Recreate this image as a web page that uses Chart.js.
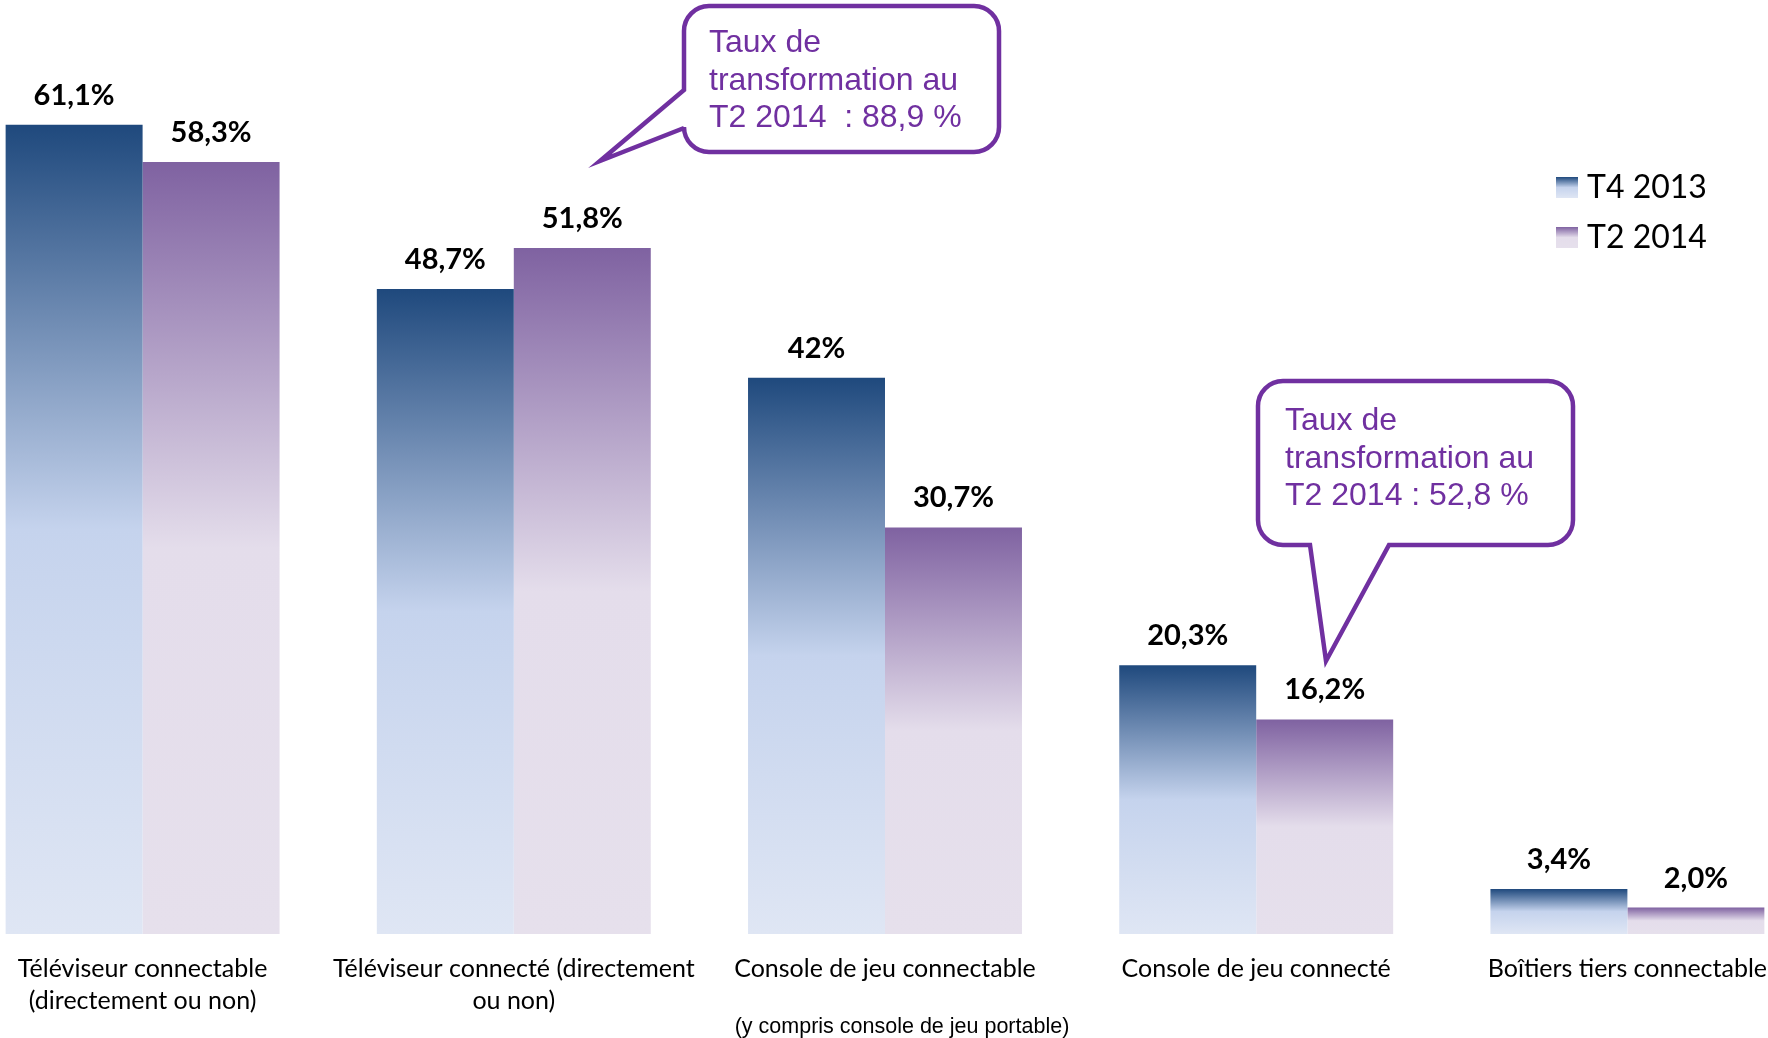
<!DOCTYPE html>
<html lang="fr">
<head>
<meta charset="utf-8">
<title>Téléviseurs et consoles connectables</title>
<script src="https://cdn.jsdelivr.net/npm/chart.js@4.4.1/dist/chart.umd.min.js"></script>
<style>
  html, body { margin: 0; padding: 0; background: #fff; overflow: hidden; }
  #wrap { position: absolute; left: -43px; top: 0; width: 1856px; height: 1038px; }
</style>
</head>
<body>
<div id="wrap"><canvas id="barChart"></canvas></div>
<script>
//Décalage du canvas par rapport à la page (le graphique est coupé à gauche).
var OFFSET_X = -43;

//Données du graphique.
var categories = [
    ['Téléviseur connectable', '(directement ou non)'],
    ['Téléviseur connecté (directement', 'ou non)'],
    'Console de jeu connectable',
    'Console de jeu connecté',
    'Boîtiers tiers connectable'
];
var seriesNames = ['T4 2013', 'T2 2014'];
var valuesT4 = [61.1, 48.7, 42, 20.3, 3.4];
var valuesT2 = [58.3, 51.8, 30.7, 16.2, 2.0];
var labelsT4 = ['61,1%', '48,7%', '42%', '20,3%', '3,4%'];
var labelsT2 = ['58,3%', '51,8%', '30,7%', '16,2%', '2,0%'];
var subLabel = '(y compris console de jeu portable)';
var callouts = [
    ['Taux de', 'transformation au', 'T2 2014  : 88,9 %'],
    ['Taux de', 'transformation au', 'T2 2014 : 52,8 %']
];

//Dégradés des barres.
var stopsBlue = [[0, '#1F497D'], [0.5, '#C5D3ED'], [1, '#DFE6F4']];
var stopsPurple = [[0, '#7F62A1'], [0.5, '#E4DDEB'], [1, '#E6E0EC']];
var PURPLE = '#7030A0';

function gradientFill(stops) {
    return function(context) {
        var chart = context.chart;
        var y = chart.scales.y;
        if (!y || context.type !== 'data') return stops[1][1];
        var v = context.parsed ? context.parsed.y : context.raw;
        var top = y.getPixelForValue(v);
        var bottom = y.getPixelForValue(0);
        if (!isFinite(top) || !isFinite(bottom) || bottom - top < 1) return stops[1][1];
        var g = chart.ctx.createLinearGradient(0, top, 0, bottom);
        stops.forEach(function(s) { g.addColorStop(s[0], s[1]); });
        return g;
    };
}

//Étiquettes de valeur au-dessus des barres.
var valueLabels = {
    id: 'valueLabels',
    afterDatasetsDraw: function(chart) {
        var c = chart.ctx;
        var texts = [labelsT4, labelsT2];
        c.save();
        c.font = 'bold 29px Lato';
        c.fillStyle = '#000';
        c.textAlign = 'center';
        c.textBaseline = 'alphabetic';
        chart.data.datasets.forEach(function(ds, i) {
            chart.getDatasetMeta(i).data.forEach(function(bar, j) {
                c.fillText(texts[i][j], bar.x, bar.y - 20);
            });
        });
        c.restore();
    }
};

//Sous-titre de la troisième catégorie, légende et bulles.
var extras = {
    id: 'extras',
    afterDraw: function(chart) {
        var c = chart.ctx;
        c.save();
        //sous-titre
        c.font = '21.5px "Liberation Sans", Arial';
        c.fillStyle = '#000';
        c.textAlign = 'center';
        c.textBaseline = 'alphabetic';
        c.fillText(subLabel, chart.scales.x.getPixelForValue(2) + 17, 1033);

        //légende
        var stops = [stopsBlue, stopsPurple];
        seriesNames.forEach(function(name, i) {
            var x = 1556 - OFFSET_X, y = 177 + i * 50;
            var g = c.createLinearGradient(0, y, 0, y + 21);
            stops[i].forEach(function(s) { g.addColorStop(s[0], s[1]); });
            c.fillStyle = g;
            c.fillRect(x, y, 22, 21);
            c.fillStyle = '#000';
            c.font = '32px Lato';
            c.textAlign = 'left';
            c.textBaseline = 'alphabetic';
            c.fillText(name, x + 31, y + 21);
        });

        //bulles
        c.translate(-OFFSET_X, 0);
        c.lineWidth = 4.5;
        c.strokeStyle = PURPLE;
        c.fillStyle = '#fff';
        c.lineJoin = 'miter';
        bubbleLeft(c, 684, 6, 999, 152, 25, 90, 128, 600, 161);
        bubbleBottom(c, 1258, 381, 1573, 545, 25, 1310, 1389, 1326, 661);
        c.fillStyle = PURPLE;
        c.font = '32px "Liberation Sans", Arial';
        c.textAlign = 'left';
        callouts[0].forEach(function(t, k) { c.fillText(t, 709, 52 + k * 37.5); });
        callouts[1].forEach(function(t, k) { c.fillText(t, 1285, 430 + k * 37.5); });
        c.restore();
    }
};

//Bulle avec pointe sur le côté gauche.
function bubbleLeft(c, x0, y0, x1, y1, r, py0, py1, tx, ty) {
    c.beginPath();
    c.moveTo(x0 + r, y0);
    c.lineTo(x1 - r, y0);
    c.arcTo(x1, y0, x1, y0 + r, r);
    c.lineTo(x1, y1 - r);
    c.arcTo(x1, y1, x1 - r, y1, r);
    c.lineTo(x0 + r, y1);
    c.arcTo(x0, y1, x0, y1 - r, r);
    c.lineTo(x0, py1);
    c.lineTo(tx, ty);
    c.lineTo(x0, py0);
    c.lineTo(x0, y0 + r);
    c.arcTo(x0, y0, x0 + r, y0, r);
    c.closePath();
    c.fill();
    c.stroke();
}

//Bulle avec pointe en bas.
function bubbleBottom(c, x0, y0, x1, y1, r, px0, px1, tx, ty) {
    c.beginPath();
    c.moveTo(x0 + r, y0);
    c.lineTo(x1 - r, y0);
    c.arcTo(x1, y0, x1, y0 + r, r);
    c.lineTo(x1, y1 - r);
    c.arcTo(x1, y1, x1 - r, y1, r);
    c.lineTo(px1, y1);
    c.lineTo(tx, ty);
    c.lineTo(px0, y1);
    c.lineTo(x0 + r, y1);
    c.arcTo(x0, y1, x0, y1 - r, r);
    c.lineTo(x0, y0 + r);
    c.arcTo(x0, y0, x0 + r, y0, r);
    c.closePath();
    c.fill();
    c.stroke();
}

var data = {
    labels: categories,
    datasets: [{
        label: seriesNames[0],
        data: valuesT4,
        backgroundColor: gradientFill(stopsBlue),
        borderWidth: 0
    }, {
        label: seriesNames[1],
        data: valuesT2,
        backgroundColor: gradientFill(stopsPurple),
        borderWidth: 0
    }]
};

var options = {
    responsive: true,
    maintainAspectRatio: false,
    animation: false,
    layout: { padding: { top: 7, left: 0, right: 0, bottom: 0 } },
    datasets: { bar: { categoryPercentage: 0.738, barPercentage: 1 } },
    plugins: {
        legend: { display: false },
        tooltip: { enabled: false }
    },
    scales: {
        x: {
            grid: { display: false, drawTicks: false },
            border: { display: false },
            ticks: {
                color: '#000',
                font: { family: 'Lato', size: 25, lineHeight: 1.28 },
                padding: 19,
                maxRotation: 0,
                autoSkip: false
            },
            afterFit: function(scale) { scale.height = 104; }
        },
        y: {
            display: false,
            min: 0,
            max: 70
        }
    }
};

var ctx = document.getElementById('barChart').getContext('2d');
var myBarChart = new Chart(ctx, {
    type: 'bar',
    data: data,
    options: options,
    plugins: [valueLabels, extras]
});
</script>
</body>
</html>
